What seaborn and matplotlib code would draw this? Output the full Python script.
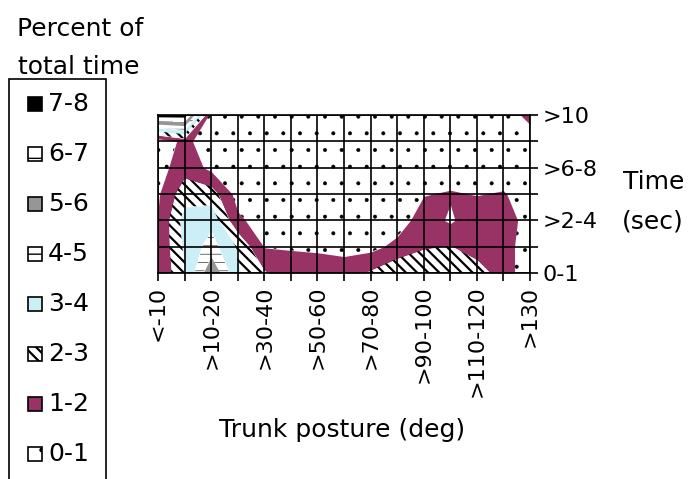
import numpy as np
import matplotlib
matplotlib.use("Agg")
import matplotlib.pyplot as plt
import seaborn as sns
from matplotlib.patches import Rectangle

# ---- categories ----
posture = ["<-10", "-10-10", ">10-20", ">20-30", ">30-40", ">40-50", ">50-60", ">60-70",
           ">70-80", ">80-90", ">90-100", ">100-110", ">110-120", ">120-130", ">130"]
time_cats = ["0-1", ">1-2", ">2-4", ">4-6", ">6-8", ">8-10", ">10"]

# ---- percent of total time, one list per time class (columns follow posture) ----
t_0_1   = [1.2, 2.8, 5.95, 3.1, 2.1, 1.6, 1.5, 1.5, 2.15, 2.85, 2.9, 2.9, 2.5, 1.5, 0.3]
t_1_2   = [1.1, 3.2, 4.4, 2.9, 0.95, 0.9, 0.85, 0.7, 0.7, 1.3, 1.9, 2.05, 1.5, 1.5, 0.3]
t_2_4   = [1.05, 3.4, 3.7, 1.2, 0.5, 0.3, 0.3, 0.3, 0.3, 0.5, 1.5, 0.85, 1.7, 1.8, 0.3]
t_4_6   = [0.9, 2.6, 2.5, 0.6, 0.3, 0.3, 0.3, 0.3, 0.3, 0.4, 0.95, 1.1, 0.95, 1.1, 0.3]
t_6_8   = [0.6, 1.6, 0.75, 0.3, 0.3, 0.3, 0.3, 0.3, 0.3, 0.3, 0.3, 0.4, 0.3, 0.3, 0.3]
t_8_10  = [0.3, 1.3, 0.3, 0.3, 0.3, 0.3, 0.3, 0.3, 0.3, 0.3, 0.3, 0.3, 0.3, 0.3, 0.3]
t_gt_10 = [7.5, 7.5, 0.3, 0.3, 0.3, 0.3, 0.3, 0.3, 0.3, 0.3, 0.3, 0.3, 0.3, 0.3, 1.4]

band_labels = ["0-1", "1-2", "2-3", "3-4", "4-5", "5-6", "6-7", "7-8"]
band_levels = [0, 1, 2, 3, 4, 5, 6, 7, 8]

sns.set_style("white")
plt.rcParams["font.family"] = ["DejaVu Sans"]
plt.rcParams["hatch.color"] = "black"
plt.rcParams["text.color"] = "black"
plt.rcParams["xtick.color"] = "black"
plt.rcParams["ytick.color"] = "black"

face = ["white", "#993366", "white", "#CCEEF6", "white", "#969696", "white", "black"]
thin_hatch = [".", None, None, None, "--", None, "-", None]
thick_hatch = [None, None, "\\\\\\", None, None, None, None, None]

fig = plt.figure(figsize=(6.99, 4.79), dpi=100)
W, H = 699.0, 479.0
ax = fig.add_axes([158 / W, 1 - 273 / H, 372 / W, 158 / H])

Z = np.array([t_0_1, t_1_2, t_2_4, t_4_6, t_6_8, t_8_10, t_gt_10])
xs = np.arange(len(posture))
ys = np.arange(len(time_cats))

with plt.rc_context({"hatch.linewidth": 0.4}):
    cs1 = ax.contourf(xs, ys, Z, levels=band_levels, colors=face, hatches=thin_hatch)
    cs1.set_edgecolor("black")
    cs1.set_linewidth(0)
with plt.rc_context({"hatch.linewidth": 1.6}):
    cs2 = ax.contourf(xs, ys, Z, levels=band_levels, colors=["none"] * 8, hatches=thick_hatch)
    cs2.set_edgecolor("black")
    cs2.set_linewidth(0)

ax.set_xlim(0, len(posture) - 1)
ax.set_ylim(0, len(time_cats) - 1)
ax.set_xticks(xs)
ax.set_xticklabels([p if i % 2 == 0 else "" for i, p in enumerate(posture)],
                   rotation=90, fontsize=16)
ax.set_yticks(ys)
ax.set_yticklabels([t if i % 2 == 0 else "" for i, t in enumerate(time_cats)], fontsize=16)
ax.yaxis.tick_right()
ax.tick_params(axis="x", direction="out", length=6, width=1.2, color="black", pad=3,
               bottom=True, top=False)
ax.tick_params(axis="y", direction="out", length=6, width=1.2, color="black", pad=3,
               left=False, right=True, labelleft=False, labelright=True)
ax.set_axisbelow(False)
ax.grid(True, color="black", linewidth=1.2)
for s in ax.spines.values():
    s.set_color("black")
    s.set_linewidth(1.2)
    s.set_visible(True)

fig.text(342 / W, 1 - 430 / H, "Trunk posture (deg)", ha="center", va="center", fontsize=18)
fig.text(654 / W, 1 - 182 / H, "Time", ha="center", va="center", fontsize=18)
fig.text(653 / W, 1 - 221 / H, "(sec)", ha="center", va="center", fontsize=18)

# legend
fig.text(80 / W, 1 - 36 / H, "Percent of", ha="center", va="baseline", fontsize=18)
fig.text(79 / W, 1 - 74 / H, "total time", ha="center", va="baseline", fontsize=18)
fig.add_artist(Rectangle((9 / W, 1 - 520 / H), 97 / W, (520 - 79) / H,
                         transform=fig.transFigure, facecolor="none", edgecolor="black",
                         linewidth=1.2, clip_on=False))
order = list(range(len(band_labels)))[::-1]
for k, i in enumerate(order):
    yc = 104 + 50 * k
    lw = 1.6 if thick_hatch[i] else 1.0
    with plt.rc_context({"hatch.linewidth": lw}):
        fig.add_artist(Rectangle((28 / W, 1 - (yc + 7) / H), 14 / W, 14 / H,
                                 transform=fig.transFigure, facecolor=face[i],
                                 edgecolor="black", linewidth=1.2,
                                 hatch=thin_hatch[i] or thick_hatch[i]))
    fig.text(48 / W, 1 - yc / H, band_labels[i], ha="left", va="center", fontsize=18)

fig.savefig("out.png", dpi=100)
